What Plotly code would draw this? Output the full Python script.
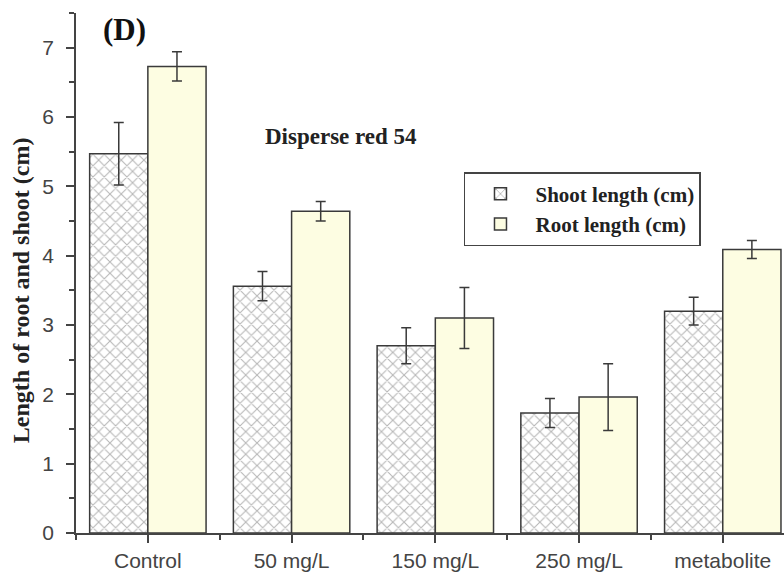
import plotly.graph_objects as go

# Seedling growth under Disperse red 54 treatment
categories = ["Control", "50 mg/L", "150 mg/L", "250 mg/L", "metabolite"]
shoot_length = [5.47, 3.56, 2.70, 1.73, 3.20]
shoot_err = [0.45, 0.21, 0.26, 0.21, 0.20]
root_length = [6.73, 4.64, 3.10, 1.96, 4.09]
root_err = [0.21, 0.14, 0.44, 0.48, 0.13]
y_ticks = [0, 1, 2, 3, 4, 5, 6, 7]

xpos = list(range(len(categories)))

edge = "#3a3a3a"
serif = "Liberation Serif, Times New Roman, serif"
sans = "Liberation Sans, Arial, sans-serif"

fig = go.Figure()
fig.add_trace(go.Bar(
    x=xpos, y=shoot_length, name="<b>Shoot length (cm)</b>",
    marker=dict(color="white", line=dict(color=edge, width=1.5),
                pattern=dict(shape="x", fgcolor="#6e6e6e", bgcolor="white",
                             size=8, solidity=0.25)),
    error_y=dict(type="data", array=shoot_err, color=edge, thickness=1.5, width=5),
))
fig.add_trace(go.Bar(
    x=xpos, y=root_length, name="<b>Root length (cm)</b>",
    marker=dict(color="#fdfde2", line=dict(color=edge, width=1.5)),
    error_y=dict(type="data", array=root_err, color=edge, thickness=1.5, width=5),
))

fig.update_layout(
    width=784, height=572,
    margin=dict(l=76, r=0, t=13, b=39),
    paper_bgcolor="white", plot_bgcolor="white",
    barmode="group", bargap=0.19, bargroupgap=0,
    showlegend=True,
    legend=dict(x=0.548, y=0.694, xanchor="left", yanchor="top",
                bordercolor="#444", borderwidth=1.5, bgcolor="white",
                font=dict(family=serif, size=21, color="#222"),
                itemwidth=60, tracegroupgap=2),
    xaxis=dict(range=[-0.5, 4.426], tickmode="array", tickvals=xpos,
               ticktext=categories, showline=True, linecolor="#444",
               linewidth=1.5, ticks="outside", ticklen=8, tickwidth=1.5,
               tickcolor="#444", showgrid=False, zeroline=False,
               tickfont=dict(family=sans, size=21, color="#444"),
               minor=dict(tick0=-0.5, dtick=1, ticks="outside", ticklen=5,
                          tickwidth=1.5, tickcolor="#444")),
    yaxis=dict(range=[0, 7.5], tickmode="array", tickvals=y_ticks,
               showline=True, linecolor="#444", linewidth=1.5,
               ticks="outside", ticklen=8, tickwidth=1.5, tickcolor="#444",
               showgrid=False, zeroline=False, ticklabelstandoff=8,
               tickfont=dict(family=sans, size=21, color="#444"),
               minor=dict(tick0=0.5, dtick=1, ticks="outside", ticklen=5,
                          tickwidth=1.5, tickcolor="#444")),
    annotations=[
        dict(text="<b>(D)</b>", xref="paper", yref="paper", x=0.036, y=0.969,
             xanchor="left", yanchor="middle", showarrow=False,
             font=dict(family=serif, size=31, color="#111")),
        dict(text="<b>Disperse red 54</b>", xref="paper", yref="paper",
             x=0.374, y=0.763, xanchor="center", yanchor="middle",
             showarrow=False, font=dict(family=serif, size=23, color="#222")),
        dict(text="<b>Length of root and shoot (cm)</b>", xref="paper",
             yref="paper", x=-0.0777, y=0.467, xanchor="center",
             yanchor="middle", textangle=-90, showarrow=False,
             font=dict(family=serif, size=24, color="#222")),
    ],
)

fig.write_html("out.html")
